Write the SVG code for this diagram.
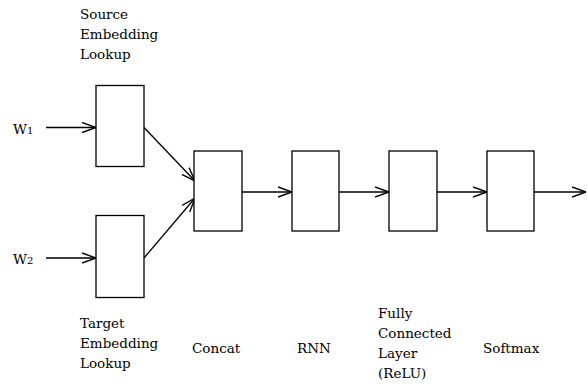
<svg xmlns="http://www.w3.org/2000/svg" width="587" height="385" viewBox="0 0 587 385">
<style>
.box{fill:#fff;stroke:#000;stroke-width:1.3}
.ln{fill:none;stroke:#000;stroke-width:1.3;marker-end:url(#ah)}
.t{font-family:'DejaVu Serif',serif;font-size:13.5px;fill:#000}
.sub{font-size:10px}
</style>
<defs>
<marker id="ah" viewBox="0 0 14 12" refX="14" refY="6" markerWidth="14" markerHeight="12" markerUnits="userSpaceOnUse" orient="auto">
<path d="M0,1 L14,6 L0,11" fill="none" stroke="#000" stroke-width="1.4"/>
</marker>
</defs>
<g id="connectors">
<line class="ln" x1="46" y1="127.5" x2="96" y2="127.5"/>
<line class="ln" x1="46" y1="258" x2="96" y2="258"/>
<line class="ln" x1="144" y1="127.5" x2="195" y2="181"/>
<line class="ln" x1="144" y1="258" x2="195" y2="198"/>
<line class="ln" x1="242" y1="192" x2="292" y2="192"/>
<line class="ln" x1="339" y1="192" x2="389" y2="192"/>
<line class="ln" x1="437" y1="192" x2="487" y2="192"/>
<line class="ln" x1="534" y1="192" x2="586" y2="192"/>
</g>
<g class="t">
<g id="w1"><text x="13" y="134">W<tspan class="sub">1</tspan></text></g>
<g id="w2"><text x="13" y="264">W<tspan class="sub">2</tspan></text></g>
<g id="source">
<rect class="box" x="96" y="85.5" width="48" height="81"/>
<text x="80" y="19">Source</text>
<text x="80" y="39">Embedding</text>
<text x="80" y="59">Lookup</text>
</g>
<g id="target">
<rect class="box" x="96" y="215.5" width="48" height="82"/>
<text x="80" y="328">Target</text>
<text x="80" y="348">Embedding</text>
<text x="80" y="368">Lookup</text>
</g>
<g id="concat">
<rect class="box" x="194" y="151" width="48" height="80"/>
<text x="192" y="353">Concat</text>
</g>
<g id="rnn">
<rect class="box" x="292" y="151" width="47" height="80"/>
<text x="297" y="353">RNN</text>
</g>
<g id="fc">
<rect class="box" x="389" y="151" width="48" height="80"/>
<text x="378" y="318">Fully</text>
<text x="378" y="338">Connected</text>
<text x="378" y="358">Layer</text>
<text x="378" y="378">(ReLU)</text>
</g>
<g id="softmax">
<rect class="box" x="487" y="151" width="47" height="80"/>
<text x="483" y="353">Softmax</text>
</g>
</g>
</svg>
